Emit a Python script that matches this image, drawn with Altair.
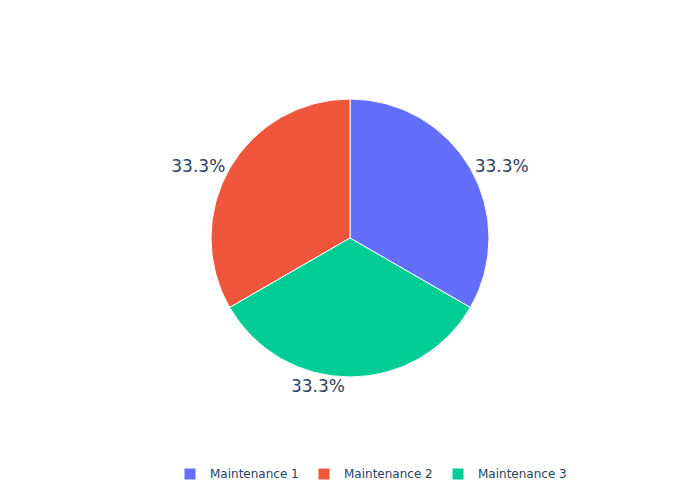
import altair as alt
import pandas as pd

categories = ["Maintenance 1", "Maintenance 2", "Maintenance 3"]
values = [1, 1, 1]
slice_order = [0, 2, 1]  # clockwise order from 12 o'clock
colors = ["#636efa", "#EF553B", "#00cc96"]

df = pd.DataFrame({"category": categories, "value": values, "ord": slice_order})

base = (
    alt.Chart(df)
    .transform_joinaggregate(total="sum(value)")
    .transform_calculate(pct="format(datum.value / datum.total, '.1%')")
)

theta = alt.Theta("value:Q", stack=True)
order = alt.Order("ord:Q", sort="ascending")

arc = base.mark_arc(outerRadius=139, stroke="white", strokeWidth=1).encode(
    theta=theta,
    order=order,
    color=alt.Color(
        "category:N",
        scale=alt.Scale(domain=categories, range=colors),
        legend=alt.Legend(
            title=None,
            orient="none",
            legendX=184,
            legendY=468,
            direction="horizontal",
            symbolType="square",
            symbolSize=121,
            symbolStrokeWidth=0,
            labelFont="DejaVu Sans",
            labelFontSize=12,
            labelColor="#2a3f5f",
            labelOffset=14,
            columnPadding=19,
            padding=0,
        ),
    ),
)

def label_layer(cat, align, dx=0, dy=0):
    return (
        base.transform_calculate(
            t=f"datum.category == '{cat}' ? datum.pct : ''"
        )
        .mark_text(
            radius=144,
            align=align,
            baseline="middle",
            dx=dx,
            dy=dy,
            font="DejaVu Sans",
            fontSize=17,
            color="#2a3f5f",
        )
        .encode(theta=theta, order=order, text="t:N")
    )

chart = (
    alt.layer(
        arc,
        label_layer("Maintenance 1", "left", dy=1),
        label_layer("Maintenance 2", "right", dy=1),
        label_layer("Maintenance 3", "right", dx=-5, dy=5),
    )
    .properties(
        width=700,
        height=476,
        autosize=alt.AutoSizeParams(type="none"),
        padding={"left": 0, "top": 0, "right": 0, "bottom": 24},
    )
    .configure_view(stroke=None)
)

chart.save("out.html", embed_options={"renderer": "svg", "actions": False})
